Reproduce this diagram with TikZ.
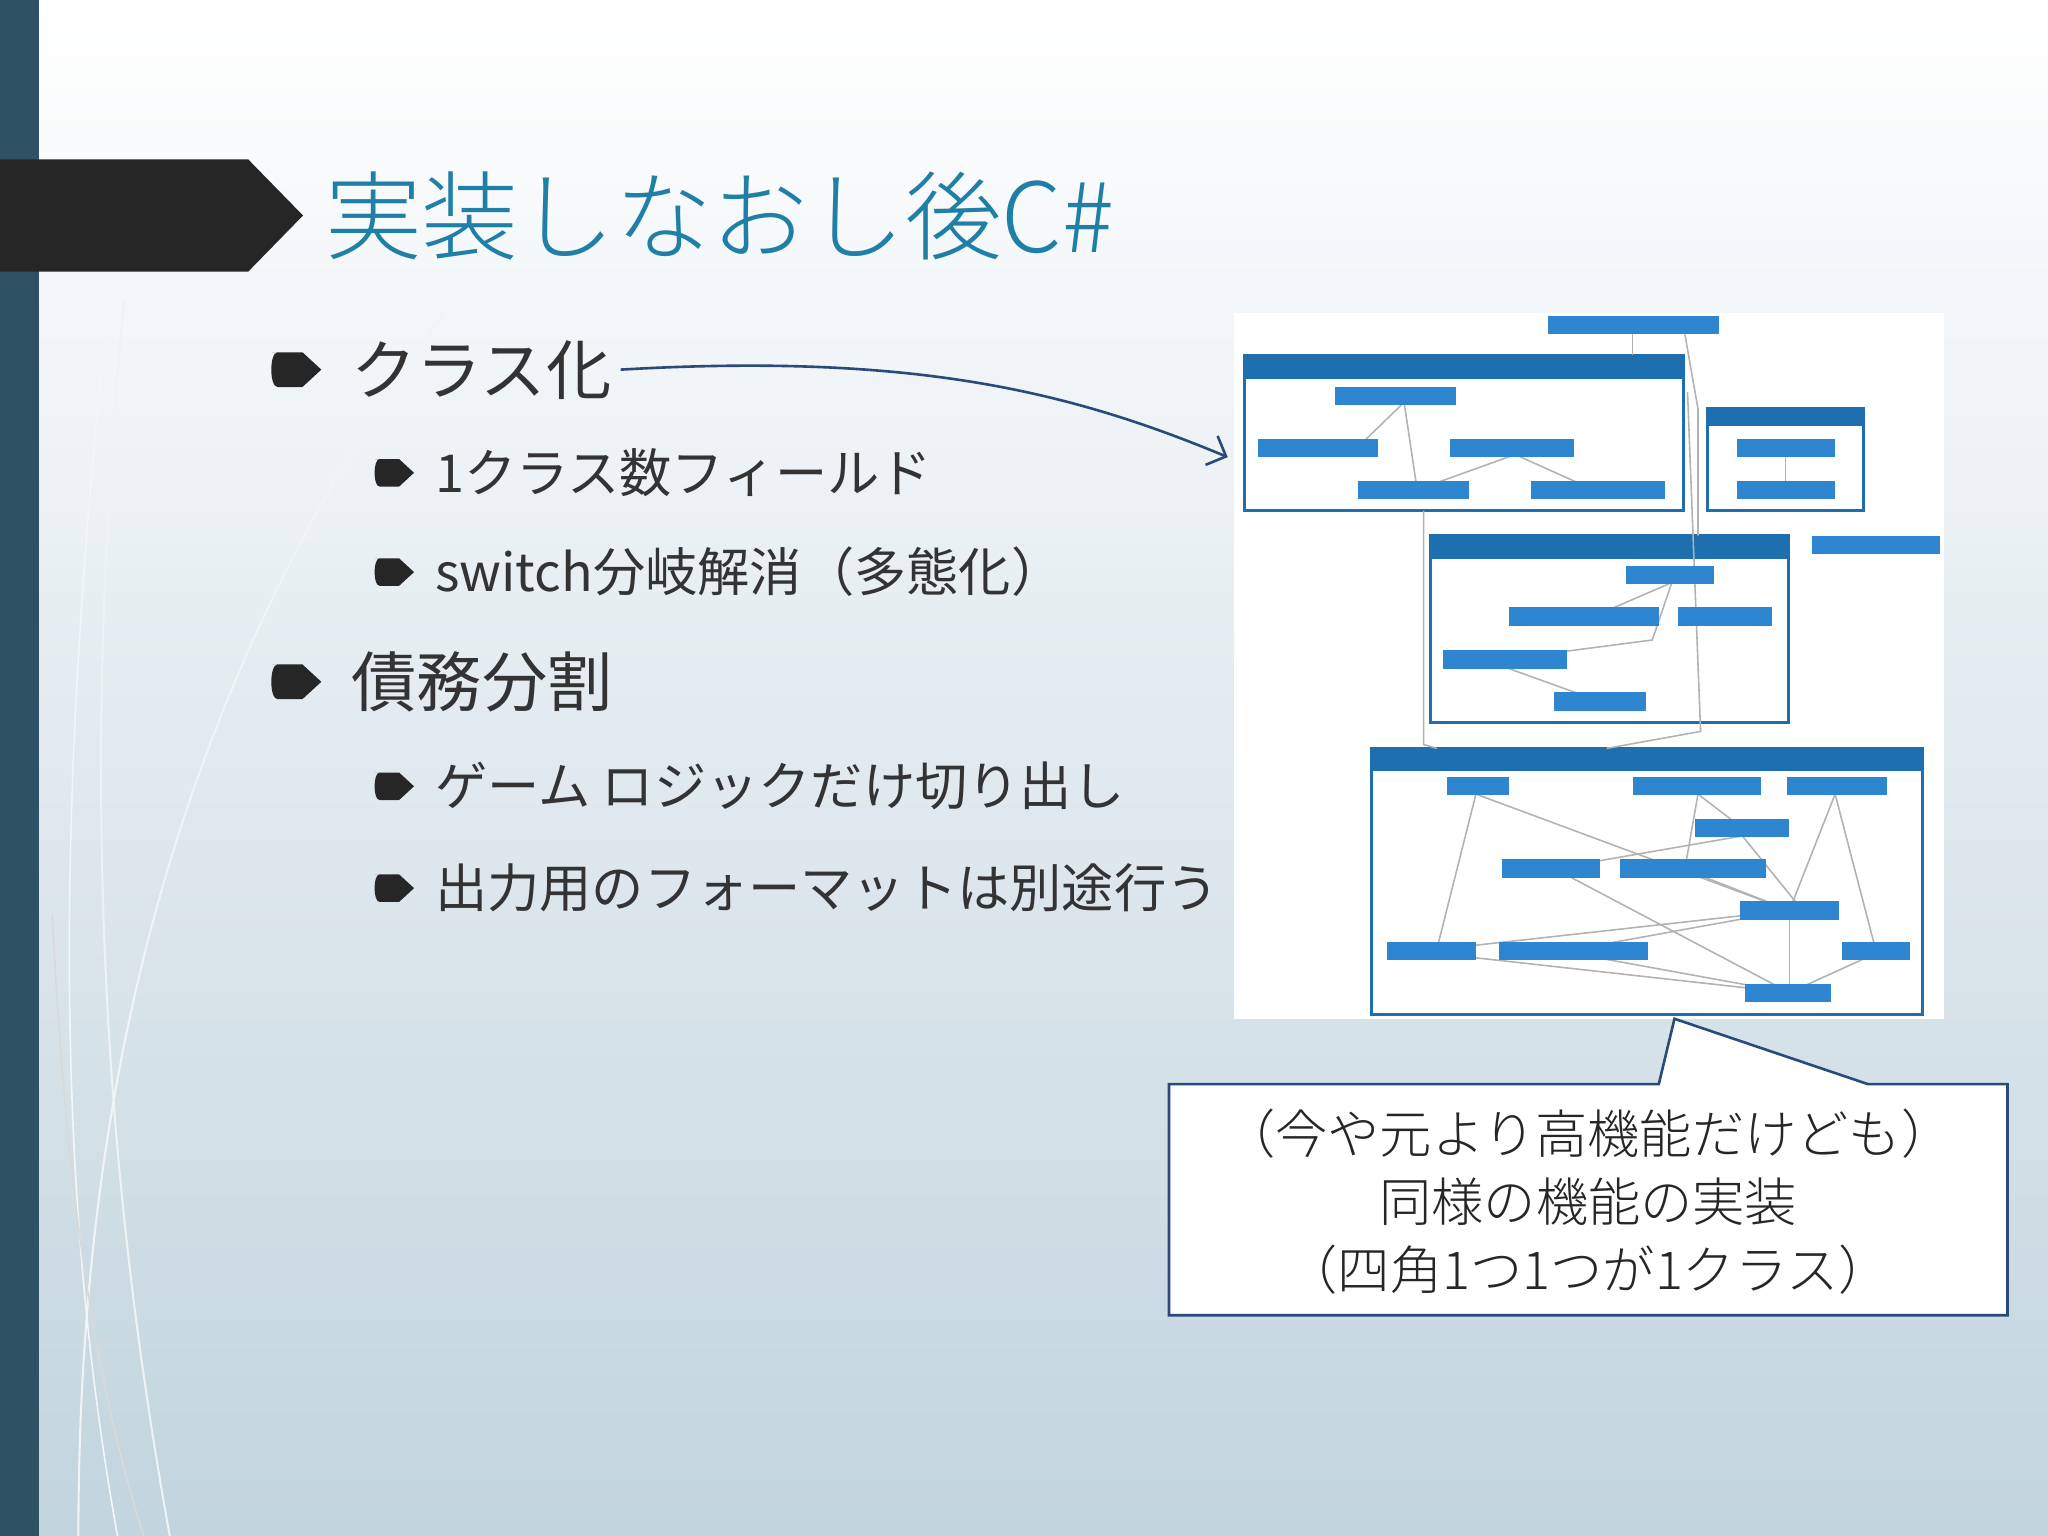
\documentclass[tikz,border=0pt]{standalone}
\usepackage{fontspec}
\setmainfont{Noto Sans CJK JP}
\newfontfamily\jplight{Noto Sans CJK JP Light}
\usetikzlibrary{arrows.meta,shapes.geometric}
\definecolor{sidebar}{HTML}{2E5163}
\definecolor{titleblue}{HTML}{1F7FA6}
\definecolor{bgbot}{HTML}{C2D4DE}
\definecolor{hdr}{HTML}{1E6FB0}
\definecolor{pillc}{HTML}{2F86D0}
\definecolor{arrowc}{HTML}{2A4A7A}
\newcommand{\mybul}[3]{\fill[black!85] (#1,#2-#3*0.35) -- (#1+#3*0.62,#2-#3*0.35) -- (#1+#3,#2) -- (#1+#3*0.62,#2+#3*0.35) -- (#1+#3*0.12,#2+#3*0.35) .. controls (#1-#3*0.05,#2+#3*0.35) and (#1-#3*0.05,#2-#3*0.35) .. (#1+#3*0.12,#2-#3*0.35) -- cycle;}
\tikzset{
  lvl1/.style={anchor=west,font=\fontsize{25}{28}\selectfont,text=black!80},
  lvl2/.style={anchor=west,font=\fontsize{20}{24}\selectfont,text=black!80},
  cls/.style={draw=hdr,line width=1.2pt,fill=white},
  wire/.style={draw=black!30,line width=0.6pt}
}
\begin{document}
\begin{tikzpicture}[x=0.5pt,y=-0.5pt]
\useasboundingbox (0,0) rectangle (1568,1176);
\shade[top color=white,bottom color=bgbot] (0,0) rectangle (1568,1176);
\fill[sidebar] (0,0) rectangle (30,1176);
% faint decorative lines
\draw[white!70!bgbot,line width=0.8pt] (95,230) .. controls (60,600) and (80,900) .. (130,1176);
\draw[white!75!bgbot,line width=0.8pt] (340,240) .. controls (150,500) and (60,800) .. (60,1176);
\draw[white!80!bgbot,line width=0.6pt] (80,260) .. controls (45,600) and (40,900) .. (90,1176);
\draw[black!15,line width=0.6pt] (40,700) .. controls (50,900) and (70,1050) .. (110,1176);
% banner
\fill[black!85] (0,122) -- (190,122) -- (232,165) -- (190,208) -- (0,208) -- cycle;
\node[anchor=west,text=titleblue,font=\jplight\fontsize{37}{40}\selectfont] (title) at (242,165) {実装しなおし後C\#};
% bullets
\mybul{208}{283}{38}
\node[lvl1] (b1) at (262,283) {クラス化};
\mybul{287}{362}{30}
\node[lvl2] (b2) at (326,362) {1クラス数フィールド};
\mybul{287}{438}{30}
\node[lvl2] (b3) at (326,438) {switch分岐解消（多態化）};
\mybul{208}{522}{38}
\node[lvl1] (b4) at (262,522) {債務分割};
\mybul{287}{602}{30}
\node[lvl2] (b5) at (326,602) {ゲーム ロジックだけ切り出し};
\mybul{287}{680}{30}
\node[lvl2] (b6) at (326,680) {出力用のフォーマットは別途行う};
% diagram image
\fill[white] (945,240) rectangle (1488,780);
\coordinate (imgin) at (940,350);
\draw[arrowc,line width=1pt,-{Straight Barb[length=6pt]}] (b1.east) .. controls (700,270) and (820,300) .. (imgin);
% class boxes
\draw[cls] (953,272) rectangle (1289,391); \fill[hdr] (953,272) rectangle (1289,290);
\draw[cls] (1307,313) rectangle (1427,391); \fill[hdr] (1307,313) rectangle (1427,326);
\draw[cls] (1095,410) rectangle (1369,553); \fill[hdr] (1095,410) rectangle (1369,428);
\draw[cls] (1050,573) rectangle (1472,777); \fill[hdr] (1050,573) rectangle (1472,590);
% wires
\begin{scope}[wire]
\draw (1250,256) -- (1250,272); \draw (1290,256) -- (1300,313) -- (1300,410);
\draw (1292,300) -- (1302,560) -- (1230,573);
\draw (1090,391) -- (1090,570) -- (1100,573);
\draw (1075,308) -- (1085,375); \draw (1075,308) -- (1040,342);
\draw (1160,348) -- (1085,375); \draw (1160,348) -- (1220,375);
\draw (1367,348) -- (1367,375);
\draw (1280,446) -- (1265,490) -- (1150,505); \draw (1280,446) -- (1220,472);
\draw (1150,510) -- (1225,537);
\draw (1130,608) -- (1100,727); \draw (1130,608) -- (1370,697);
\draw (1300,608) -- (1334,634); \draw (1300,608) -- (1290,665);
\draw (1405,608) -- (1370,697); \draw (1405,608) -- (1436,727);
\draw (1334,640) -- (1380,697); \draw (1334,640) -- (1190,665);
\draw (1370,697) -- (1100,727); \draw (1370,697) -- (1205,727);
\draw (1370,697) -- (1370,760); \draw (1205,730) -- (1370,760);
\draw (1100,730) -- (1370,760); \draw (1436,730) -- (1370,760);
\draw (1190,665) -- (1370,760); \draw (1296,668) -- (1370,697);
\end{scope}
% pills
\foreach \a/\b/\c in {1185/242/1316, 1387/410/1485, 1022/296/1115, 963/336/1055, 1110/336/1205,
  1040/368/1125, 1172/368/1275, 1330/336/1405, 1330/368/1405, 1245/433/1312, 1155/465/1270,
  1285/465/1357, 1105/498/1200, 1190/530/1260, 1108/595/1155, 1250/595/1348, 1368/595/1445,
  1298/627/1370, 1150/658/1225, 1240/658/1352, 1332/690/1408, 1062/721/1130, 1148/721/1262,
  1410/721/1462, 1336/753/1402}
  \fill[pillc] (\a,\b) rectangle (\c,\b+14);
% callout
\draw[arrowc,line width=1pt,fill=white] (895,830) -- (1270,830) -- (1282,780) -- (1430,830) -- (1537,830) -- (1537,1007) -- (895,1007) -- cycle;
\node[align=center,font=\jplight\fontsize{20}{26}\selectfont,text=black!85] (note) at (1216,920) {（今や元より高機能だけども）\\同様の機能の実装\\（四角1つ1つが1クラス）};
\end{tikzpicture}
\end{document}
